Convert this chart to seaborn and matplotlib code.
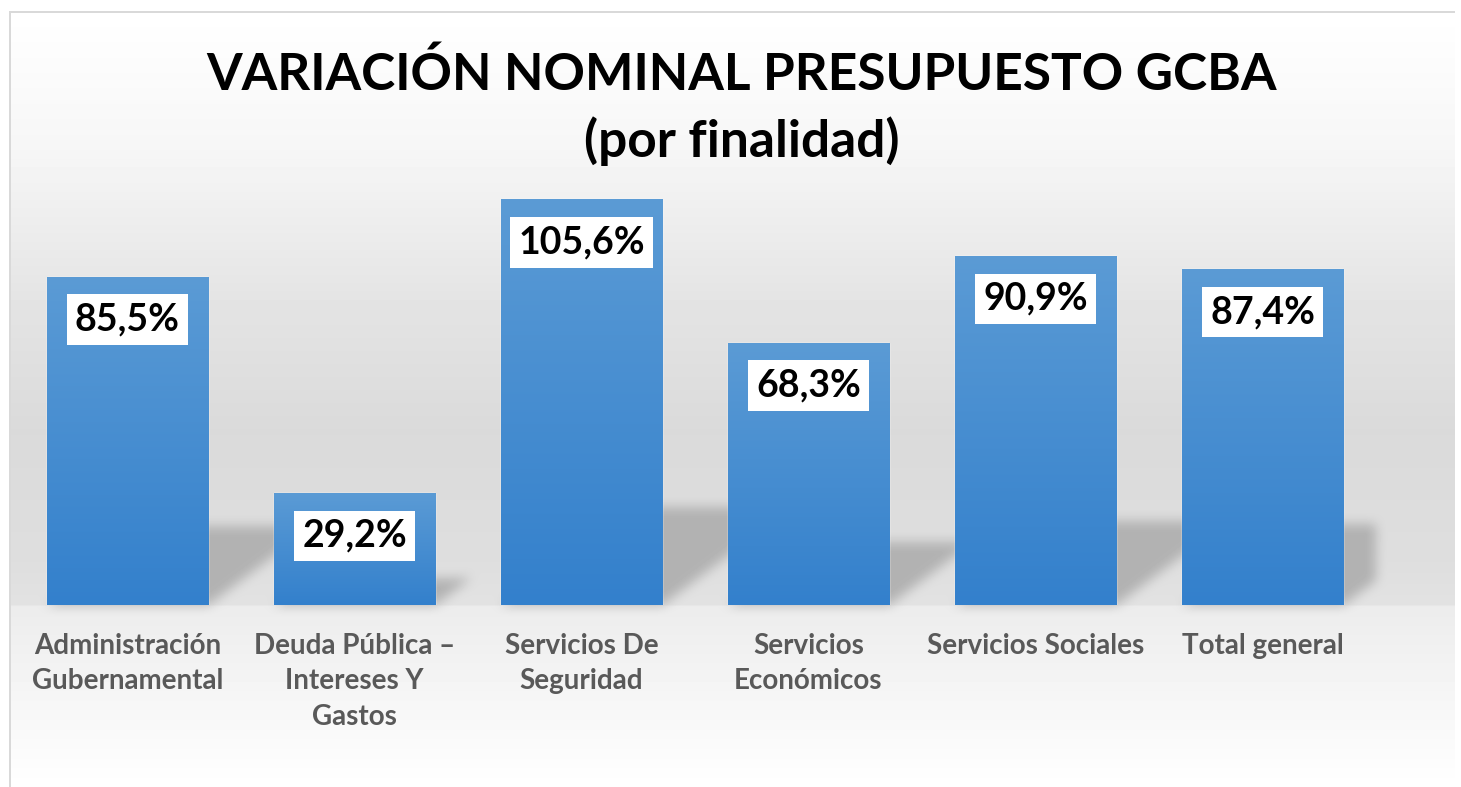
import numpy as np
import pandas as pd
import seaborn as sns
import matplotlib.pyplot as plt
from matplotlib.colors import LinearSegmentedColormap

# Chart data
categories = ['Administración\nGubernamental', 'Deuda Pública –\nIntereses Y\nGastos',
              'Servicios De\nSeguridad', 'Servicios\nEconómicos',
              'Servicios Sociales', 'Total general']
values = [85.5, 29.2, 105.6, 68.3, 90.9, 87.4]
title = 'VARIACIÓN NOMINAL PRESUPUESTO GCBA\n(por finalidad)'

df = pd.DataFrame({'finalidad': categories, 'variacion': values})

sns.set_theme(style='white')
plt.rcParams['font.family'] = ['Lato', 'DejaVu Sans']

W, H = 1461, 787
fig = plt.figure(figsize=(W / 100, H / 100), dpi=100)

# background layer (gradient + bar shadows)
ax_bg = fig.add_axes([0, 0, 1, 1], zorder=0)
ax_bg.set_axis_off()

ax = fig.add_axes([14 / W, 182 / H, 1362 / W, 461 / H], zorder=1)
ax.patch.set_alpha(0)
sns.barplot(data=df, x='finalidad', y='variacion', ax=ax, width=0.71,
            color='#4a8fd2', saturation=1)
ax.set_xlim(-0.5, 5.5)
ax.set_ylim(0, 120)
ax.set_xlabel('')
ax.set_ylabel('')
ax.set_yticks([])
sns.despine(ax=ax, left=True, bottom=True)
ax.tick_params(axis='x', length=0, pad=20)
for lab in ax.get_xticklabels():
    lab.set_fontsize(20)
    lab.set_fontweight('bold')
    lab.set_color('#595959')
    lab.set_linespacing(1.45)
    lab.set_verticalalignment('top')

# background gradient in pixel rows (top-down)
rows = np.arange(H)
gray = np.interp(rows, [11, 150, 300, 430, 560, 604, 606, 700, 787],
                 [255, 246, 228, 218, 222, 226, 236, 246, 255])
img = np.repeat(gray[:, None], W, axis=1).astype(float)

# bar shadows cast to the right
mask = np.zeros((H, W))
right_px = ax.transAxes.transform((1, 0))[0]
for p in ax.patches:
    (x0, y0), (x1, y1) = ax.transData.transform([(p.get_x(), 0), (p.get_x() + p.get_width(), p.get_height())])
    h = y1 - y0
    base = H - y0
    sh, dx = 0.24 * h, 0.32 * h
    for r in range(int(base - sh), int(base)):
        t = (base - r) / sh
        c0, c1 = int(x0 + t * dx), int(min(x1 + t * dx, right_px))
        mask[r, max(c0, 0):max(c1, 0)] = 1


def box_blur(a, k):
    ker = np.ones(k) / k
    a = np.apply_along_axis(lambda m: np.convolve(m, ker, mode='same'), 0, a)
    return np.apply_along_axis(lambda m: np.convolve(m, ker, mode='same'), 1, a)


mask = box_blur(box_blur(mask, 13), 13)
img = img - mask * (img - 178)
img[:11, :] = 255
img[:, :9] = 255
img[:, W - 6:] = 255
img[11:13, 9:W - 6] = 217
img[11:, 9:11] = 217
ax_bg.imshow(img, cmap='gray', vmin=0, vmax=255, extent=(0, 1, 0, 1),
             aspect='auto', interpolation='nearest')
ax_bg.set_xlim(0, 1)
ax_bg.set_ylim(0, 1)

# gradient fill on bars
cmap = LinearSegmentedColormap.from_list('bar', ['#3380cc', '#5b9bd5'])
grad = np.linspace(0, 1, 256)[:, None]
for p in ax.patches:
    x, w, hgt = p.get_x(), p.get_width(), p.get_height()
    im = ax.imshow(grad, cmap=cmap, extent=(x, x + w, 0, hgt), origin='lower',
                   aspect='auto', zorder=2)
    im.set_clip_path(p)
    p.set_facecolor('none')
ax.set_xlim(-0.5, 5.5)
ax.set_ylim(0, 120)

# value labels in white boxes
for i, v in enumerate(values):
    ax.annotate(f'{v:.1f}'.replace('.', ',') + '%', xy=(i, v), xytext=(0, -43),
                textcoords='offset pixels', ha='center', va='center',
                fontsize=27, fontweight='bold', color='black', zorder=3,
                bbox=dict(boxstyle='square,pad=0.22', facecolor='white', edgecolor='none'))

fig.text(742 / W, 1 - 50 / H, title, ha='center', va='top', fontsize=37,
         fontweight='bold', color='black', linespacing=1.45, zorder=2)

fig.savefig('out.png', dpi=100)
